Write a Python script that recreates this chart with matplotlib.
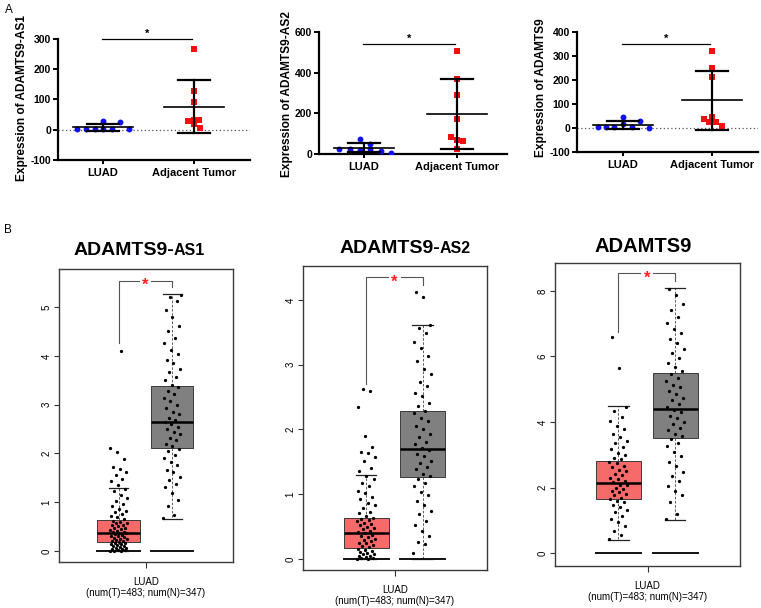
import numpy as np
import matplotlib
matplotlib.use('Agg')
import matplotlib.pyplot as plt

W, H = 761, 608
plt.rcParams['font.family'] = ['Liberation Sans', 'DejaVu Sans']
plt.rcParams['axes.unicode_minus'] = False

# ---------------- Panel A data (qPCR, n=8 per group) ----------------
a_genes = ['ADAMTS9-AS1', 'ADAMTS9-AS2', 'ADAMTS9']
a_groups = ['LUAD', 'Adjacent Tumor']
a1_luad = [2, 2, 2, 28, 2, 2, 24, 2]
a1_adj = [266, 129, 93, 30, 33, 33, 19, 5]
a2_luad = [26, 23, 75, 18, 51, 26, 15, 5]
a2_adj = [505, 367, 290, 174, 82, 70, 66, 26]
a3_luad = [3, 3, 3, 47, 17, 3, 28, 1]
a3_adj = [319, 249, 214, 37, 46, 24, 24, 10]
a1_yticks = [-100, 0, 100, 200, 300]
a2_yticks = [0, 200, 400, 600]
a3_yticks = [-100, 0, 100, 200, 300, 400]
a_sig_y = [300, 540, 350]

# ---------------- Panel B data (GEPIA boxplots) ----------------
b_genes = [('ADAMTS9-', 'AS1'), ('ADAMTS9-', 'AS2'), ('ADAMTS9', '')]
b_xlabel = 'LUAD\n(num(T)=483; num(N)=347)'
# box stats: lower whisker, Q1, median, Q3, upper whisker
b1_tum_box = [0.00, 0.18, 0.37, 0.63, 1.30]
b1_norm_box = [0.66, 2.12, 2.65, 3.38, 5.27]
b2_tum_box = [0.00, 0.165, 0.40, 0.64, 1.29]
b2_norm_box = [0.00, 1.26, 1.70, 2.28, 3.61]
b3_tum_box = [0.41, 1.65, 2.13, 2.82, 4.50]
b3_norm_box = [1.02, 3.51, 4.40, 5.49, 8.10]
b1_yticks = [0, 1, 2, 3, 4, 5]
b2_yticks = [0, 1, 2, 3, 4]
b3_yticks = [0, 2, 4, 6, 8]
# significance bracket: left start, top, right end
b1_sig = [4.26, 5.54, 5.41]
b2_sig = [2.71, 4.35, 4.23]
b3_sig = [6.76, 8.54, 8.31]

b1_tum_pts = [0.00, 0.00, 0.01, 0.02, 0.03, 0.04, 0.05, 0.06, 0.07, 0.09, 0.10, 0.11, 0.13, 0.14, 0.15,
              0.16, 0.17, 0.19, 0.20, 0.21, 0.23, 0.24, 0.25, 0.27, 0.29, 0.30, 0.31, 0.33, 0.34, 0.36,
              0.37, 0.38, 0.40, 0.42, 0.43, 0.45, 0.47, 0.48, 0.51, 0.53, 0.54, 0.57, 0.58, 0.60, 0.62,
              0.65, 0.69, 0.71, 0.76, 0.79, 0.83, 0.87, 0.93, 0.97, 1.02, 1.09, 1.14, 1.22, 1.27,
              1.35, 1.43, 1.47, 1.56, 1.62, 1.68, 1.73, 1.89, 2.03, 2.11, 4.09]
b1_norm_pts = [0.68, 0.73, 0.93, 1.04, 1.19, 1.31, 1.37, 1.46, 1.51, 1.61, 1.67, 1.76, 1.82, 1.91, 1.97,
               2.06, 2.10, 2.16, 2.20, 2.28, 2.32, 2.39, 2.43, 2.51, 2.54, 2.61, 2.64, 2.69, 2.73, 2.81,
               2.85, 2.94, 2.99, 3.08, 3.13, 3.22, 3.27, 3.36, 3.41, 3.51, 3.57, 3.67, 3.74, 3.85, 3.92,
               4.03, 4.12, 4.26, 4.37, 4.51, 4.61, 4.79, 4.94, 5.13, 5.21, 5.25]
b2_tum_pts = [0.00, 0.00, 0.01, 0.02, 0.03, 0.04, 0.05, 0.07, 0.08, 0.10, 0.11, 0.13, 0.14, 0.16,
              0.18, 0.20, 0.21, 0.24, 0.25, 0.28, 0.30, 0.31, 0.34, 0.36, 0.37, 0.40,
              0.42, 0.43, 0.46, 0.48, 0.49, 0.52, 0.54, 0.55, 0.58, 0.60, 0.61, 0.64,
              0.67, 0.71, 0.73, 0.78, 0.83, 0.86, 0.92, 0.96, 1.02, 1.05, 1.13, 1.17, 1.24, 1.28,
              1.36, 1.41, 1.51, 1.57, 1.63, 1.66, 1.73, 1.90, 2.35, 2.59, 2.62]
b2_norm_pts = [0.09, 0.23, 0.27, 0.36, 0.44, 0.53, 0.59, 0.69, 0.74, 0.83, 0.89, 0.99, 1.04, 1.13, 1.17, 1.24,
               1.28, 1.32, 1.39, 1.42, 1.49, 1.52, 1.59, 1.62, 1.69,
               1.71, 1.78, 1.81, 1.89, 1.93, 2.01, 2.05, 2.13, 2.17, 2.25, 2.28,
               2.36, 2.41, 2.51, 2.57, 2.67, 2.74, 2.86, 2.94, 3.06, 3.14, 3.26, 3.35, 3.49, 3.57, 3.61,
               4.04, 4.13]
b3_tum_pts = [0.43, 0.56, 0.67, 0.83, 0.94, 1.06, 1.14, 1.26, 1.32, 1.41, 1.46, 1.55, 1.59,
              1.67, 1.70, 1.77, 1.80, 1.87, 1.90, 1.97, 2.00, 2.07, 2.09,
              2.16, 2.19, 2.27, 2.31, 2.39, 2.43, 2.51, 2.55, 2.63, 2.67, 2.75, 2.79,
              2.87, 2.92, 3.01, 3.07, 3.17, 3.24, 3.35, 3.43, 3.56, 3.65, 3.79, 3.89, 4.04, 4.17, 4.33, 4.47,
              5.65, 6.58]
b3_norm_pts = [1.05, 1.21, 1.57, 1.79, 1.89, 2.06, 2.19, 2.36, 2.49, 2.66, 2.79, 2.96, 3.09, 3.26, 3.37, 3.49,
               3.57, 3.64, 3.75, 3.82, 3.93, 4.00, 4.11, 4.19, 4.31, 4.37,
               4.46, 4.54, 4.66, 4.74, 4.86, 4.94, 5.06, 5.14, 5.26, 5.34, 5.46,
               5.56, 5.67, 5.81, 5.94, 6.11, 6.24, 6.41, 6.54, 6.71, 6.84, 7.01, 7.19, 7.41, 7.59, 7.86, 8.06]

# ---------------- layout ----------------
fig = plt.figure(figsize=(W / 100, H / 100), dpi=100)


def add_ax(l, t, r, b):
    return fig.add_axes([l / W, 1 - b / H, (r - l) / W, (b - t) / H])


BLUE = '#1010F5'
RED = '#F51010'

# A panels: (left, top, right, bottom, luad_px, adj_px, ylim, ylabel_x, ylabel_y)
a_layout = [
    (58, 39, 250, 160, 103, 194, (-100, 300), 22, 98),
    (319, 32, 507, 154, 364, 457, (0, 600), 287, 94),
    (577, 32, 758, 152, 623, 712, (-100, 400), 541, 88),
]
a_data = [(a1_luad, a1_adj, a1_yticks), (a2_luad, a2_adj, a2_yticks), (a3_luad, a3_adj, a3_yticks)]
a_dx = [  # horizontal spreading of points, pixels
    ([-26, -17, -8, 0, 0, 9, 17, 26], [0, 0, 0, -6, 0, 5, 0, 6]),
    ([-25, -14, -4, -4, 6, 6, 17, 27], [0, 0, 0, 0, -6, 0, 6, 0]),
    ([-25, -17, -9, 0, 0, 9, 17, 26], [0, 0, 0, -8, 0, -3, 4, 10]),
]

for i, (lay, dat, dxs) in enumerate(zip(a_layout, a_data, a_dx)):
    l, t, r, b, lx, axp, ylim, ylx, yly = lay
    luad, adj, yt = dat
    ppu = axp - lx
    ax = add_ax(l, t, r, b)
    ax.set_xlim((l - lx) / ppu, (r - lx) / ppu)
    ax.set_ylim(*ylim)
    for s in ['top', 'right']:
        ax.spines[s].set_visible(False)
    for s in ['left', 'bottom']:
        ax.spines[s].set_linewidth(1.6)
    ax.set_yticks(yt)
    ax.set_xticks([0, 1])
    ax.set_xticklabels(a_groups, fontweight='bold', fontsize=8)
    for lbl in ax.get_yticklabels():
        lbl.set_fontweight('bold')
    ax.tick_params(axis='y', width=1.4, length=3.5, labelsize=7.5, pad=1.5)
    ax.tick_params(axis='x', width=1.4, length=3, pad=2.5)
    if ylim[0] < 0:
        ax.axhline(0, color='#555555', lw=0.9, ls=(0, (1, 2)), zorder=1)
    for xi, vals, dx, col, mk in [(0, luad, dxs[0], BLUE, 'o'), (1, adj, dxs[1], RED, 's')]:
        vals = np.array(vals, float)
        m, sd = vals.mean(), vals.std(ddof=1)
        ax.scatter(xi + np.array(dx) / ppu, vals, s=18, marker=mk, color=col, zorder=3, linewidths=0)
        ax.plot([xi - 30 / ppu, xi + 30 / ppu], [m, m], color='black', lw=1.2, zorder=4)
        ax.plot([xi, xi], [m - sd, m + sd], color='black', lw=1.6, zorder=4)
        for yv in (m - sd, m + sd):
            ax.plot([xi - 16 / ppu, xi + 16 / ppu], [yv, yv], color='black', lw=1.6, zorder=4)
    ax.plot([-0.01, 0.98], [a_sig_y[i]] * 2, color='black', lw=0.9, clip_on=False)
    ax.text(0.485, a_sig_y[i], '*', ha='center', va='bottom', fontsize=8, fontweight='bold',
            clip_on=False)
    fig.text(ylx / W, 1 - yly / H, 'Expression of ' + a_genes[i], rotation=90, ha='center',
             va='center', fontsize=8.6, fontweight='bold')

fig.text(5 / W, 1 - 10 / H, 'A', fontsize=8.5, ha='left', va='center')
fig.text(4 / W, 1 - 230 / H, 'B', fontsize=8.5, ha='left', va='center')

# B panels: (left, top, right, bottom, ylim, title_split_x, title_baseline_y)
b_layout = [
    (59, 269, 233, 562, (-0.225, 5.78), 174, 255),
    (303, 266, 487, 570, (-0.17, 4.525), 440, 253),
    (555, 263, 740, 566, (-0.387, 8.85), 643, 252),
]
b_data = [
    (b1_tum_box, b1_norm_box, b1_tum_pts, b1_norm_pts, b1_yticks, b1_sig),
    (b2_tum_box, b2_norm_box, b2_tum_pts, b2_norm_pts, b2_yticks, b2_sig),
    (b3_tum_box, b3_norm_box, b3_tum_pts, b3_norm_pts, b3_yticks, b3_sig),
]
POS_T, POS_N, BW = 0.343, 0.650, 0.245
TUM_COL, NORM_COL = '#F76A6A', '#808080'

for i, (lay, dat) in enumerate(zip(b_layout, b_data)):
    l, t, r, b, ylim, tx, ty = lay
    tbox, nbox, tpts, npts, yt, sig = dat
    ax = add_ax(l, t, r, b)
    ax.set_xlim(0, 1)
    ax.set_ylim(*ylim)
    for s in ax.spines.values():
        s.set_color('#3a3a3a')
        s.set_linewidth(1.0)
    stats = []
    for st, lab in [(tbox, 'T'), (nbox, 'N')]:
        stats.append(dict(whislo=st[0], q1=st[1], med=st[2], q3=st[3], whishi=st[4], label=lab))
    bp = ax.bxp(stats, positions=[POS_T, POS_N], widths=BW, patch_artist=True, showfliers=False,
                capwidths=0.11,
                boxprops=dict(linewidth=0.7, edgecolor='#3a3a3a'),
                medianprops=dict(color='black', linewidth=1.8),
                whiskerprops=dict(color='#444444', linewidth=0.6, linestyle=(0, (3, 2))),
                capprops=dict(color='#222222', linewidth=0.9))
    bp['boxes'][0].set_facecolor(TUM_COL)
    bp['boxes'][1].set_facecolor(NORM_COL)
    for p in (POS_T, POS_N):
        ax.plot([p - BW / 2, p + BW / 2], [0, 0], color='#111111', lw=1.4, zorder=3)
    for p, pts in [(POS_T, tpts), (POS_N, npts)]:
        n = len(pts)
        jit = (np.modf(np.arange(n) * 0.6180339887)[0] - 0.5) * 0.10
        ax.scatter(p + jit, pts, s=5.5, color='black', linewidths=0, zorder=4)
    # significance bracket
    gap = 0.035
    mid = (POS_T + POS_N) / 2
    bc = '#555555'
    ax.plot([POS_T, POS_T, mid - gap], [sig[0], sig[1], sig[1]], color=bc, lw=0.8)
    ax.plot([mid + gap, POS_N, POS_N], [sig[1], sig[1], sig[2]], color=bc, lw=0.8)
    ax.annotate('*', xy=(mid, sig[1]), xytext=(0, -3.5), textcoords='offset points',
                color='#FF2020', ha='center', va='center', fontsize=12, fontweight='bold')
    ax.set_yticks(yt)
    ax.set_xticks([0.5])
    ax.set_xticklabels([b_xlabel], fontsize=7, linespacing=1.15)
    ax.tick_params(axis='y', labelsize=7, length=3.5, width=0.8, pad=2, labelrotation=90,
                   color='#333333')
    ax.tick_params(axis='x', length=4, width=0.8, pad=7, color='#333333')
    for lbl in ax.get_yticklabels():
        lbl.set_va('center')
    main, sub = b_genes[i]
    if sub:
        fig.text(tx / W, 1 - ty / H, main, ha='right', va='baseline', fontsize=14, fontweight='bold')
        fig.text(tx / W, 1 - ty / H, sub, ha='left', va='baseline', fontsize=11.5, fontweight='bold')
    else:
        fig.text(tx / W, 1 - ty / H, main, ha='center', va='baseline', fontsize=14.5,
                 fontweight='bold')

fig.savefig('out.png', dpi=100)
